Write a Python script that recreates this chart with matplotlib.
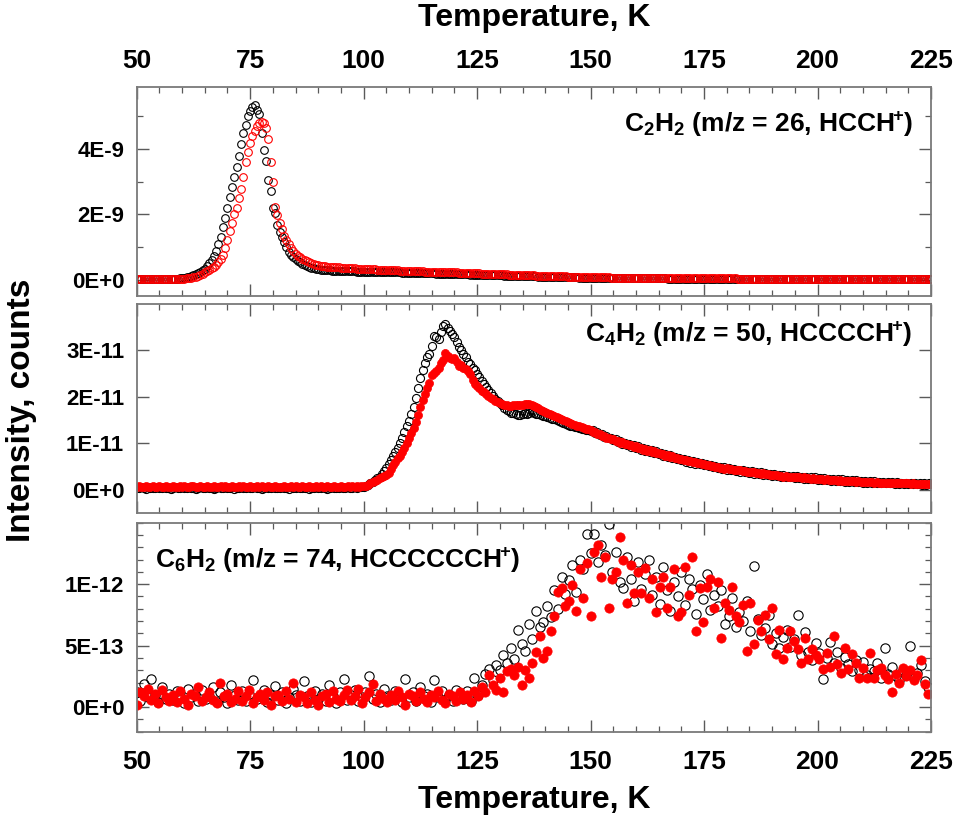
"""TPD traces of the C2H2, C4H2 and C6H2 ion signals against temperature.

Three stacked panels share the temperature axis (labels on top of the first
panel and under the last). Each panel holds two runs: black open circles and
red circles (open in the top panel, filled in the two lower ones).
"""

import matplotlib

matplotlib.use("Agg")

import matplotlib.pyplot as plt
import numpy as np
from matplotlib.ticker import MultipleLocator

plt.rcParams["font.family"] = ["Liberation Sans", "DejaVu Sans"]
plt.rcParams["font.weight"] = "bold"
plt.rcParams["mathtext.fontset"] = "custom"
plt.rcParams["mathtext.rm"] = "Liberation Sans:bold"
plt.rcParams["mathtext.bf"] = "Liberation Sans:bold"
plt.rcParams["mathtext.default"] = "bf"

# temperature sampling of the runs (K)
TEMP_FINE = np.linspace(50.0, 225.0, 351)    # C2H2 and C4H2 runs, 0.5 K
TEMP_COARSE = np.linspace(50.0, 224.4, 219)  # C6H2 runs, 0.8 K

# C2H2, m/z = 26, in units of 1E-9
C2H2_BLACK = [
    0.01, 0.01, 0.01, 0.01, 0.01, 0.01, 0.01, 0.01, 0.01, 0.01,
    0.01, 0.01, 0.01, 0.01, 0.01, 0.01, 0.02, 0.02, 0.03, 0.04,
    0.05, 0.06, 0.07, 0.08, 0.10, 0.13, 0.16, 0.20, 0.24, 0.29,
    0.34, 0.41, 0.50, 0.60, 0.72, 0.88, 1.08, 1.32, 1.62, 1.90,
    2.20, 2.52, 2.84, 3.15, 3.45, 3.78, 4.15, 4.50, 4.75, 5.00,
    5.18, 5.28, 5.34, 5.20, 5.06, 4.50, 3.96, 3.63, 3.05, 2.72,
    2.18, 2.03, 1.67, 1.46, 1.30, 1.16, 1.00, 0.86, 0.76, 0.69,
    0.63, 0.58, 0.53, 0.49, 0.45, 0.42, 0.39, 0.37, 0.35, 0.33,
    0.32, 0.31, 0.30, 0.30, 0.29, 0.29, 0.28, 0.28, 0.28, 0.27,
    0.27, 0.27, 0.27, 0.26, 0.26, 0.26, 0.26, 0.25, 0.25, 0.25,
    0.25, 0.25, 0.24, 0.24, 0.24, 0.24, 0.24, 0.23, 0.23, 0.23,
    0.23, 0.23, 0.22, 0.22, 0.22, 0.22, 0.22, 0.21, 0.21, 0.21,
    0.21, 0.21, 0.20, 0.20, 0.20, 0.20, 0.20, 0.19, 0.19, 0.19,
    0.19, 0.19, 0.18, 0.18, 0.18, 0.18, 0.18, 0.17, 0.17, 0.17,
    0.17, 0.17, 0.16, 0.16, 0.16, 0.16, 0.16, 0.15, 0.15, 0.15,
    0.15, 0.15, 0.14, 0.14, 0.14, 0.14, 0.14, 0.13, 0.13, 0.13,
    0.13, 0.13, 0.12, 0.12, 0.12, 0.12, 0.12, 0.11, 0.11, 0.11,
    0.11, 0.11, 0.10, 0.10, 0.10, 0.10, 0.10, 0.09, 0.09, 0.09,
    0.09, 0.09, 0.09, 0.08, 0.08, 0.08, 0.08, 0.08, 0.08, 0.07,
    0.07, 0.07, 0.07, 0.07, 0.07, 0.06, 0.06, 0.06, 0.06, 0.06,
    0.06, 0.06, 0.06, 0.05, 0.05, 0.05, 0.05, 0.05, 0.05, 0.05,
    0.05, 0.05, 0.05, 0.04, 0.04, 0.04, 0.04, 0.04, 0.04, 0.04,
    0.04, 0.04, 0.04, 0.04, 0.04, 0.04, 0.04, 0.04, 0.04, 0.04,
    0.04, 0.04, 0.04, 0.04, 0.03, 0.03, 0.03, 0.03, 0.03, 0.03,
    0.03, 0.03, 0.03, 0.03, 0.03, 0.03, 0.03, 0.03, 0.03, 0.03,
    0.03, 0.03, 0.03, 0.03, 0.03, 0.03, 0.03, 0.03, 0.03, 0.03,
    0.03, 0.03, 0.03, 0.03, 0.03, 0.02, 0.02, 0.02, 0.02, 0.02,
    0.02, 0.02, 0.02, 0.02, 0.02, 0.02, 0.02, 0.02, 0.02, 0.02,
    0.02, 0.02, 0.02, 0.02, 0.02, 0.02, 0.02, 0.02, 0.02, 0.02,
    0.02, 0.02, 0.02, 0.02, 0.02, 0.02, 0.02, 0.02, 0.02, 0.02,
    0.02, 0.02, 0.02, 0.02, 0.02, 0.02, 0.02, 0.02, 0.02, 0.02,
    0.02, 0.02, 0.02, 0.02, 0.02, 0.02, 0.02, 0.02, 0.02, 0.02,
    0.02, 0.02, 0.02, 0.02, 0.02, 0.02, 0.02, 0.02, 0.02, 0.02,
    0.02, 0.02, 0.02, 0.02, 0.02, 0.02, 0.02, 0.02, 0.02, 0.02,
    0.02, 0.02, 0.02, 0.02, 0.02, 0.02, 0.02, 0.02, 0.02, 0.02,
    0.02,
]
C2H2_RED = [
    0.01, 0.01, 0.01, 0.01, 0.01, 0.01, 0.01, 0.01, 0.01, 0.01,
    0.01, 0.01, 0.01, 0.01, 0.01, 0.01, 0.01, 0.02, 0.02, 0.02,
    0.03, 0.03, 0.04, 0.05, 0.06, 0.07, 0.09, 0.11, 0.14, 0.17,
    0.22, 0.26, 0.31, 0.35, 0.40, 0.46, 0.55, 0.64, 0.76, 0.98,
    1.20, 1.50, 1.75, 2.00, 2.20, 2.50, 2.77, 3.15, 3.60, 3.90,
    4.17, 4.40, 4.55, 4.72, 4.80, 4.84, 4.80, 4.63, 4.30, 3.61,
    2.99, 2.23, 1.98, 1.75, 1.55, 1.35, 1.20, 1.08, 0.98, 0.88,
    0.80, 0.74, 0.69, 0.64, 0.60, 0.56, 0.53, 0.50, 0.47, 0.45,
    0.44, 0.43, 0.42, 0.41, 0.40, 0.40, 0.39, 0.39, 0.38, 0.38,
    0.37, 0.37, 0.36, 0.36, 0.35, 0.35, 0.35, 0.34, 0.34, 0.34,
    0.33, 0.33, 0.33, 0.32, 0.32, 0.32, 0.31, 0.31, 0.31, 0.30,
    0.30, 0.30, 0.30, 0.29, 0.29, 0.29, 0.28, 0.28, 0.28, 0.28,
    0.27, 0.27, 0.27, 0.26, 0.26, 0.26, 0.26, 0.25, 0.25, 0.25,
    0.25, 0.24, 0.24, 0.24, 0.23, 0.23, 0.23, 0.23, 0.22, 0.22,
    0.22, 0.22, 0.21, 0.21, 0.21, 0.20, 0.20, 0.20, 0.20, 0.19,
    0.19, 0.19, 0.18, 0.18, 0.18, 0.18, 0.17, 0.17, 0.17, 0.17,
    0.16, 0.16, 0.16, 0.16, 0.15, 0.15, 0.15, 0.15, 0.14, 0.14,
    0.14, 0.14, 0.13, 0.13, 0.13, 0.13, 0.12, 0.12, 0.12, 0.12,
    0.11, 0.11, 0.11, 0.11, 0.11, 0.10, 0.10, 0.10, 0.10, 0.10,
    0.09, 0.09, 0.09, 0.09, 0.09, 0.09, 0.08, 0.08, 0.08, 0.08,
    0.08, 0.08, 0.07, 0.07, 0.07, 0.07, 0.07, 0.07, 0.07, 0.06,
    0.06, 0.06, 0.06, 0.06, 0.06, 0.06, 0.06, 0.06, 0.06, 0.06,
    0.06, 0.06, 0.05, 0.05, 0.05, 0.05, 0.05, 0.05, 0.05, 0.05,
    0.05, 0.05, 0.05, 0.05, 0.05, 0.05, 0.05, 0.05, 0.05, 0.05,
    0.05, 0.05, 0.04, 0.04, 0.04, 0.04, 0.04, 0.04, 0.04, 0.04,
    0.04, 0.04, 0.04, 0.04, 0.04, 0.04, 0.04, 0.04, 0.04, 0.04,
    0.04, 0.04, 0.04, 0.04, 0.04, 0.03, 0.03, 0.03, 0.03, 0.03,
    0.03, 0.03, 0.03, 0.03, 0.03, 0.03, 0.03, 0.03, 0.03, 0.03,
    0.03, 0.03, 0.03, 0.03, 0.03, 0.03, 0.03, 0.03, 0.03, 0.03,
    0.03, 0.03, 0.03, 0.03, 0.03, 0.03, 0.03, 0.03, 0.03, 0.03,
    0.03, 0.03, 0.03, 0.03, 0.03, 0.02, 0.02, 0.02, 0.02, 0.02,
    0.02, 0.02, 0.02, 0.02, 0.02, 0.02, 0.02, 0.02, 0.02, 0.02,
    0.02, 0.02, 0.02, 0.02, 0.02, 0.02, 0.02, 0.02, 0.02, 0.02,
    0.02, 0.02, 0.02, 0.02, 0.02, 0.02, 0.02, 0.02, 0.02, 0.02,
    0.02, 0.02, 0.02, 0.02, 0.02, 0.02, 0.02, 0.02, 0.02, 0.02,
    0.02,
]

# C4H2, m/z = 50, in units of 1E-11
C4H2_BLACK = [
    0.04, 0.03, 0.05, 0.04, 0.02, 0.05, 0.04, 0.03, 0.04, 0.06,
    0.03, 0.04, 0.05, 0.03, 0.04, 0.02, 0.04, 0.05, 0.03, 0.04,
    0.05, 0.03, 0.04, 0.06, 0.03, 0.04, 0.02, 0.04, 0.05, 0.03,
    0.04, 0.05, 0.03, 0.04, 0.02, 0.04, 0.06, 0.03, 0.04, 0.05,
    0.03, 0.04, 0.05, 0.02, 0.04, 0.03, 0.05, 0.04, 0.03, 0.06,
    0.04, 0.03, 0.05, 0.04, 0.03, 0.02, 0.04, 0.05, 0.04, 0.03,
    0.05, 0.04, 0.03, 0.04, 0.06, 0.03, 0.04, 0.02, 0.05, 0.04,
    0.03, 0.05, 0.04, 0.03, 0.04, 0.05, 0.02, 0.04, 0.03, 0.05,
    0.04, 0.03, 0.05, 0.04, 0.02, 0.04, 0.05, 0.03, 0.04, 0.04,
    0.05, 0.03, 0.04, 0.05, 0.04, 0.03, 0.05, 0.04, 0.05, 0.05,
    0.06, 0.08, 0.10, 0.13, 0.16, 0.20, 0.24, 0.28, 0.33, 0.40,
    0.47, 0.55, 0.64, 0.72, 0.80, 0.90, 1.00, 1.12, 1.24, 1.36,
    1.48, 1.62, 1.78, 1.98, 2.18, 2.40, 2.58, 2.72, 2.85, 2.92,
    3.10, 3.30, 3.28, 3.25, 3.40, 3.52, 3.56, 3.48, 3.42, 3.36,
    3.28, 3.18, 3.08, 3.00, 2.93, 2.85, 2.76, 2.70, 2.62, 2.57,
    2.50, 2.42, 2.35, 2.28, 2.20, 2.14, 2.08, 2.02, 1.96, 1.91,
    1.86, 1.82, 1.76, 1.72, 1.70, 1.66, 1.64, 1.62, 1.61, 1.60,
    1.62, 1.64, 1.63, 1.66, 1.68, 1.65, 1.63, 1.62, 1.60, 1.58,
    1.58, 1.57, 1.55, 1.53, 1.51, 1.49, 1.47, 1.45, 1.43, 1.41,
    1.40, 1.38, 1.37, 1.35, 1.34, 1.33, 1.31, 1.30, 1.29, 1.28,
    1.27, 1.28, 1.22, 1.24, 1.18, 1.20, 1.13, 1.16, 1.10, 1.12,
    1.06, 1.09, 1.03, 1.04, 0.99, 1.01, 0.95, 0.98, 0.92, 0.95,
    0.90, 0.93, 0.86, 0.90, 0.84, 0.87, 0.81, 0.85, 0.78, 0.82,
    0.76, 0.79, 0.73, 0.76, 0.71, 0.74, 0.68, 0.71, 0.65, 0.68,
    0.63, 0.66, 0.60, 0.64, 0.58, 0.62, 0.56, 0.60, 0.54, 0.58,
    0.52, 0.55, 0.50, 0.53, 0.48, 0.51, 0.46, 0.49, 0.44, 0.48,
    0.43, 0.46, 0.41, 0.45, 0.40, 0.43, 0.38, 0.42, 0.37, 0.40,
    0.36, 0.39, 0.34, 0.38, 0.33, 0.37, 0.32, 0.35, 0.31, 0.34,
    0.30, 0.33, 0.29, 0.32, 0.28, 0.31, 0.27, 0.30, 0.26, 0.29,
    0.25, 0.29, 0.24, 0.28, 0.23, 0.27, 0.23, 0.26, 0.22, 0.26,
    0.21, 0.25, 0.20, 0.24, 0.20, 0.23, 0.19, 0.23, 0.19, 0.22,
    0.18, 0.22, 0.17, 0.21, 0.17, 0.20, 0.16, 0.20, 0.16, 0.19,
    0.15, 0.19, 0.15, 0.18, 0.14, 0.18, 0.14, 0.17, 0.14, 0.17,
    0.13, 0.17, 0.13, 0.16, 0.12, 0.16, 0.12, 0.15, 0.12, 0.15,
    0.11, 0.15, 0.11, 0.14, 0.11, 0.14, 0.10, 0.14, 0.10, 0.13,
    0.11,
]
C4H2_RED = [
    0.06, 0.07, 0.05, 0.06, 0.08, 0.05, 0.06, 0.07, 0.05, 0.06,
    0.07, 0.05, 0.06, 0.08, 0.06, 0.05, 0.07, 0.06, 0.05, 0.07,
    0.06, 0.07, 0.05, 0.06, 0.07, 0.08, 0.05, 0.06, 0.07, 0.05,
    0.06, 0.08, 0.06, 0.05, 0.07, 0.06, 0.05, 0.07, 0.06, 0.08,
    0.05, 0.06, 0.07, 0.06, 0.05, 0.07, 0.06, 0.08, 0.05, 0.06,
    0.07, 0.06, 0.05, 0.07, 0.06, 0.08, 0.06, 0.05, 0.07, 0.06,
    0.05, 0.07, 0.06, 0.05, 0.06, 0.07, 0.05, 0.06, 0.08, 0.06,
    0.07, 0.05, 0.06, 0.07, 0.06, 0.05, 0.07, 0.06, 0.05, 0.07,
    0.06, 0.08, 0.05, 0.06, 0.07, 0.05, 0.06, 0.07, 0.06, 0.05,
    0.07, 0.06, 0.05, 0.07, 0.06, 0.08, 0.06, 0.07, 0.06, 0.07,
    0.07, 0.08, 0.10, 0.13, 0.16, 0.18, 0.21, 0.25, 0.28, 0.30,
    0.31, 0.36, 0.44, 0.52, 0.60, 0.67, 0.72, 0.80, 0.90, 1.00,
    1.10, 1.22, 1.32, 1.45, 1.60, 1.78, 1.92, 2.05, 2.18, 2.30,
    2.46, 2.52, 2.55, 2.62, 2.72, 2.80, 2.95, 2.88, 2.83, 2.82,
    2.84, 2.75, 2.66, 2.68, 2.63, 2.60, 2.55, 2.48, 2.36, 2.28,
    2.24, 2.18, 2.13, 2.10, 2.05, 2.01, 1.98, 1.95, 1.91, 1.88,
    1.86, 1.84, 1.83, 1.82, 1.81, 1.81, 1.82, 1.82, 1.83, 1.82,
    1.83, 1.84, 1.85, 1.84, 1.83, 1.80, 1.78, 1.75, 1.72, 1.70,
    1.67, 1.65, 1.63, 1.61, 1.59, 1.56, 1.54, 1.52, 1.50, 1.48,
    1.46, 1.44, 1.42, 1.40, 1.38, 1.36, 1.34, 1.33, 1.31, 1.30,
    1.29, 1.25, 1.25, 1.20, 1.20, 1.16, 1.16, 1.12, 1.12, 1.09,
    1.09, 1.05, 1.05, 1.01, 1.02, 0.98, 0.98, 0.95, 0.96, 0.92,
    0.93, 0.89, 0.90, 0.86, 0.87, 0.84, 0.85, 0.81, 0.82, 0.79,
    0.79, 0.76, 0.76, 0.73, 0.74, 0.71, 0.72, 0.68, 0.69, 0.66,
    0.66, 0.63, 0.64, 0.61, 0.62, 0.59, 0.60, 0.57, 0.58, 0.55,
    0.55, 0.53, 0.53, 0.50, 0.51, 0.48, 0.49, 0.47, 0.47, 0.45,
    0.46, 0.44, 0.44, 0.42, 0.43, 0.41, 0.41, 0.39, 0.40, 0.38,
    0.38, 0.37, 0.37, 0.35, 0.36, 0.34, 0.35, 0.33, 0.33, 0.32,
    0.32, 0.31, 0.31, 0.29, 0.30, 0.28, 0.29, 0.28, 0.28, 0.27,
    0.27, 0.26, 0.26, 0.25, 0.26, 0.24, 0.25, 0.23, 0.24, 0.23,
    0.23, 0.22, 0.23, 0.21, 0.22, 0.21, 0.21, 0.20, 0.21, 0.19,
    0.20, 0.19, 0.19, 0.18, 0.19, 0.18, 0.18, 0.17, 0.18, 0.17,
    0.17, 0.16, 0.17, 0.16, 0.16, 0.15, 0.16, 0.15, 0.15, 0.14,
    0.15, 0.14, 0.15, 0.14, 0.14, 0.13, 0.14, 0.13, 0.13, 0.13,
    0.13, 0.12, 0.13, 0.12, 0.12, 0.12, 0.12, 0.11, 0.12, 0.11,
    0.11,
]

# C6H2, m/z = 74, in units of 1E-13
C6H2_BLACK = [
    1.2, 0.5, 1.9, 0.8, 2.3, 1.0, 0.4, 1.6, 0.7, 1.1,
    0.6, 1.3, 0.9, 0.3, 1.5, 0.8, 1.1, 0.5, 1.4, 0.7,
    0.9, 1.6, 0.4, 1.2, 0.8, 0.3, 1.8, 1.0, 0.6, 1.3,
    0.5, 1.1, 2.2, 0.7, 0.9, 1.4, 0.4, 1.0, 1.7, 0.6,
    1.2, 0.3, 0.8, 1.5, 1.0, 0.5, 2.1, 0.9, 0.4, 1.3,
    0.7, 1.1, 0.5, 1.8, 0.9, 0.3, 1.2, 2.3, 0.6, 1.0,
    1.4, 0.5, 0.8, 1.2, 2.5, 0.7, 1.1, 0.4, 1.5, 0.9,
    0.6, 1.3, 1.0, 0.4, 2.3, 0.8, 1.2, 0.5, 1.6, 0.9,
    1.1, 0.4, 2.2, 0.8, 1.3, 0.6, 1.0, 0.5, 1.4, 0.9,
    0.7, 1.3, 0.5, 2.4, 1.0, 1.8, 2.7, 3.1, 2.2, 3.4,
    3.0, 4.2, 3.6, 4.8, 3.9, 6.3, 5.1, 4.6, 6.8, 5.5,
    7.8, 6.5, 6.9, 8.2, 7.3, 9.5, 8.0, 10.6, 9.2, 10.3,
    11.6, 9.4, 12.0, 11.2, 14.1, 12.5, 14.1, 11.8, 13.2, 12.4,
    14.9, 11.0, 12.6, 10.2, 9.7, 12.2, 10.4, 8.6, 11.8, 9.6,
    10.8, 12.0, 9.1, 10.6, 8.4, 11.4, 9.5, 7.8, 10.2, 9.0,
    11.0, 8.3, 10.4, 9.6, 7.6, 9.9, 8.8, 10.8, 7.9, 9.1,
    8.2, 9.5, 6.8, 7.4, 8.9, 6.5, 7.7, 7.0, 8.6, 6.2,
    11.5, 7.2, 5.9, 6.4, 7.5, 5.1, 6.0, 4.8, 5.7, 6.3,
    4.9, 5.5, 7.5, 4.2, 6.1, 4.5, 3.8, 5.2, 4.4, 2.3,
    4.0, 5.3, 3.6, 4.5, 3.2, 4.1, 3.5, 2.9, 3.8, 3.0,
    3.7, 2.6, 3.1, 2.9, 3.6, 2.4, 4.8, 2.7, 3.3, 2.5,
    2.2, 3.0, 2.6, 5.0, 2.4, 2.8, 3.4, 2.1, 1.6,
]
C6H2_RED = [
    0.2, 1.2, 0.9, 1.5, 0.6, 1.1, 0.3, 1.4, 0.8, 0.5,
    1.0, 0.4, 1.3, 0.7, 0.2, 1.1, 0.9, 1.6, 0.5, 0.8,
    1.2, 0.6, 0.3, 2.0, 0.9, 1.1, 0.4, 0.7, 1.3, 0.5,
    0.9, 1.4, 0.3, 0.8, 1.1, 0.6, 1.2, 0.2, 0.9, 1.0,
    0.5, 1.3, 0.7, 2.0, 0.4, 1.0, 0.8, 0.3, 1.2, 0.6,
    0.2, 0.9, 1.1, 0.4, 1.3, 0.7, 0.5, 1.0, 1.4, 0.6,
    0.9, 1.5, 0.3, 0.8, 1.2, 1.9, 0.5, 1.1, 0.7, 0.4,
    1.0, 0.6, 1.3, 0.8, 0.2, 1.1, 0.9, 0.5, 1.2, 0.7,
    0.4, 1.0, 0.8, 1.3, 0.6, 0.3, 1.1, 0.9, 0.5, 1.2,
    0.7, 1.0, 0.4, 1.3, 0.9, 1.6, 1.2, 2.6, 1.8, 1.4,
    2.4, 1.2, 2.9, 3.1, 2.6, 3.3, 1.8, 3.0, 2.4, 3.6,
    4.5, 5.8, 4.0, 4.6, 6.2, 7.4, 9.4, 9.7, 8.2, 8.6,
    9.9, 7.8, 11.2, 8.9, 11.7, 7.4, 12.6, 13.2, 10.6, 12.2,
    8.1, 10.4, 11.0, 13.8, 12.0, 8.5, 11.6, 9.3, 11.0, 9.3,
    11.3, 8.9, 10.4, 7.7, 9.8, 10.6, 8.1, 9.8, 11.2, 7.4,
    7.7, 11.4, 9.1, 12.2, 6.2, 9.7, 6.9, 9.8, 10.4, 8.1,
    10.2, 5.6, 8.5, 7.9, 9.8, 7.4, 6.9, 8.3, 4.6, 8.5,
    5.1, 7.1, 6.2, 7.5, 5.5, 8.1, 4.3, 6.3, 3.9, 4.8,
    6.2, 5.4, 4.7, 3.6, 5.6, 3.9, 4.7, 4.2, 3.9, 3.1,
    4.4, 3.3, 5.8, 3.5, 2.8, 4.8, 3.1, 4.3, 3.6, 2.4,
    3.2, 2.4, 4.4, 2.4, 3.0, 3.2, 2.6, 2.3, 1.2, 2.7,
    2.0, 3.2, 2.5, 3.0, 2.2, 2.6, 3.8, 1.9, 1.1,
]

LABELS = [
    r"C$_2$H$_2$ (m/z = 26, HCCH$^{\!\!+}\!$)",
    r"C$_4$H$_2$ (m/z = 50, HCCCCH$^{\!\!+}\!$)",
    r"C$_6$H$_2$ (m/z = 74, HCCCCCCH$^{\!\!+}\!$)",
]
YTICKS = [[0, 2, 4], [0, 1, 2, 3], [0, 5, 10]]
YTICK_LABELS = [
    ["0E+0", "2E-9", "4E-9"],
    ["0E+0", "1E-11", "2E-11", "3E-11"],
    ["0E+0", "5E-13", "1E-12"],
]

SPINE_GREY = "#7a7a7a"
TICK_GREY = "#5a5a5a"

# axes boxes in figure pixels (left, top, right, bottom) for a 960x833 canvas
W, H = 960.0, 833.0
BOXES = [(136.7, 87.0, 931.0, 296.0),
         (136.7, 304.0, 931.0, 512.7),
         (136.7, 522.7, 931.0, 731.7)]


def _axes_rect(box):
    left, top, right, bottom = box
    return [left / W, 1 - bottom / H, (right - left) / W, (bottom - top) / H]


def _style(ax, yticks, ylabels, ylim, yminor):
    ax.set_xlim(50, 225)
    ax.set_ylim(*ylim)
    ax.xaxis.set_major_locator(MultipleLocator(25))
    ax.xaxis.set_minor_locator(MultipleLocator(5))
    ax.set_yticks(yticks, ylabels)
    if yminor:
        ax.yaxis.set_minor_locator(MultipleLocator(yminor))
    ax.tick_params(which="both", direction="in", top=True, right=True,
                   color=TICK_GREY, labelbottom=False, labeltop=False)
    ax.tick_params(which="major", length=8.5, width=1.0)
    ax.tick_params(which="minor", length=4.3, width=0.9)
    ax.tick_params(axis="x", labelsize=19)
    ax.tick_params(axis="y", labelsize=16, pad=9)
    for spine in ax.spines.values():
        spine.set_color(SPINE_GREY)
        spine.set_linewidth(1.3)


def main():
    fig = plt.figure(figsize=(9.6, 8.33), dpi=100)
    axes = [fig.add_axes(_axes_rect(b)) for b in BOXES]
    ax_top, ax_mid, ax_bot = axes

    # top: both runs as open circles
    ax_top.plot(TEMP_FINE, C2H2_BLACK, ls="none", marker="o", ms=5.5,
                mfc="none", mec="black", mew=0.8)
    ax_top.plot(TEMP_FINE, C2H2_RED, ls="none", marker="o", ms=5.5,
                mfc="none", mec="red", mew=0.8)

    ax_mid.plot(TEMP_FINE, C4H2_BLACK, ls="none", marker="o", ms=5.8,
                mfc="none", mec="black", mew=0.8)
    ax_mid.plot(TEMP_FINE, C4H2_RED, ls="none", marker="o", ms=5.8,
                mfc="red", mec="red", mew=0.5)

    ax_bot.plot(TEMP_COARSE, C6H2_BLACK, ls="none", marker="o", ms=6.7,
                mfc="none", mec="black", mew=0.8)
    ax_bot.plot(TEMP_COARSE, C6H2_RED, ls="none", marker="o", ms=6.7,
                mfc="red", mec="red", mew=0.5)

    _style(ax_top, YTICKS[0], YTICK_LABELS[0], (-0.5, 5.9), 1)
    _style(ax_mid, YTICKS[1], YTICK_LABELS[1], (-0.5, 4.0), None)
    _style(ax_bot, YTICKS[2], YTICK_LABELS[2], (-2.0, 15.0), 1)
    ax_top.tick_params(axis="x", labeltop=True, pad=10)
    ax_bot.tick_params(axis="x", labelbottom=True, pad=13)

    ax_top.text(0.977, 0.786, LABELS[0], transform=ax_top.transAxes,
                ha="right", va="baseline", fontsize=19)
    ax_mid.text(0.9757, 0.819, LABELS[1], transform=ax_mid.transAxes,
                ha="right", va="baseline", fontsize=19)
    ax_bot.text(0.023, 0.782, LABELS[2], transform=ax_bot.transAxes,
                ha="left", va="baseline", fontsize=19)

    fig.text(534 / W, 1 - 18 / H, "Temperature, K", ha="center",
             va="center", fontsize=23)
    fig.text(534 / W, 1 - 800 / H, "Temperature, K", ha="center",
             va="center", fontsize=23)
    fig.text(22 / W, 1 - 410 / H, "Intensity, counts", ha="center",
             va="center", rotation=90, fontsize=24)

    fig.savefig("out.png", dpi=100)
    plt.close(fig)


if __name__ == "__main__":
    main()
